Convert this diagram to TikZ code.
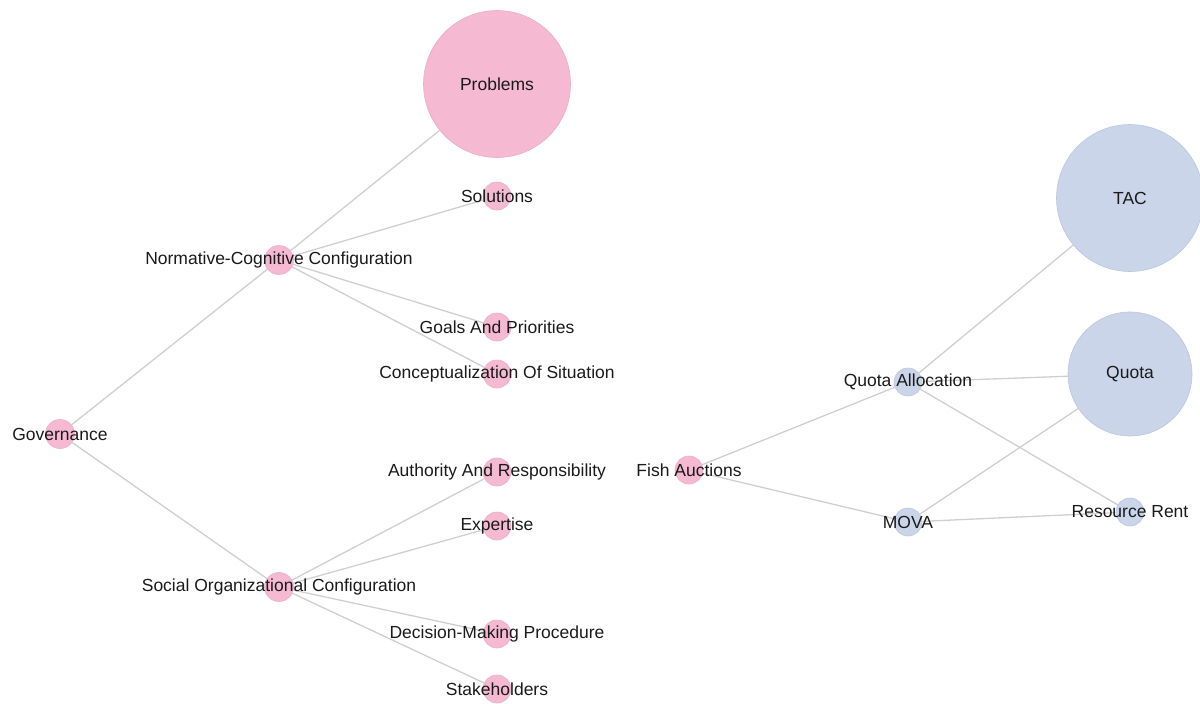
\documentclass[tikz,border=0pt]{standalone}
\usepackage{fontspec}
\setmainfont{Liberation Sans}
\definecolor{pinkfill}{HTML}{F6B9D2}
\definecolor{pinkdraw}{HTML}{E9AFC6}
\definecolor{bluefill}{HTML}{CBD5E9}
\definecolor{bluedraw}{HTML}{BCC7DD}
\definecolor{edgecol}{HTML}{CFCFCF}
\definecolor{txt}{HTML}{1A1A1A}
\tikzset{
  pnode/.style={circle, fill=pinkfill, draw=pinkdraw, line width=0.6pt, inner sep=0pt, minimum size=#1},
  bnode/.style={circle, fill=bluefill, draw=bluedraw, line width=0.6pt, inner sep=0pt, minimum size=#1},
  lbl/.style={text=txt, inner sep=0pt, font=\fontsize{17.5}{20}\selectfont},
  edge/.style={draw=edgecol, line width=1.3pt}
}
\begin{document}
\begin{tikzpicture}[x=1pt,y=-1pt]
\useasboundingbox (0,0) rectangle (1200,704);
% circles
\node[pnode=29pt] (gov) at (60,434) {};
\node[pnode=29pt] (ncc) at (279,260) {};
\node[pnode=29pt] (soc) at (279,587) {};
\node[pnode=147pt] (prob) at (497,84) {};
\node[pnode=28pt] (sol) at (497,196) {};
\node[pnode=28pt] (goals) at (497,327) {};
\node[pnode=28pt] (conc) at (497,374) {};
\node[pnode=28pt] (auth) at (497,472) {};
\node[pnode=28pt] (exp) at (497,526) {};
\node[pnode=28pt] (dmp) at (497,634) {};
\node[pnode=28pt] (stake) at (497,689) {};
\node[pnode=28pt] (fish) at (689,470) {};
\node[bnode=28pt] (qa) at (908,382) {};
\node[bnode=28pt] (mova) at (908,522) {};
\node[bnode=28pt] (rr) at (1130,512) {};
\node[bnode=147pt] (tac) at (1130,198) {};
\node[bnode=124pt] (quota) at (1130,374) {};
% edges
\draw[edge] (gov) -- (ncc);
\draw[edge] (gov) -- (soc);
\draw[edge] (ncc) -- (prob);
\draw[edge] (ncc) -- (sol);
\draw[edge] (ncc) -- (goals);
\draw[edge] (ncc) -- (conc);
\draw[edge] (soc) -- (auth);
\draw[edge] (soc) -- (exp);
\draw[edge] (soc) -- (dmp);
\draw[edge] (soc) -- (stake);
\draw[edge] (fish) -- (qa);
\draw[edge] (fish) -- (mova);
\draw[edge] (qa) -- (tac);
\draw[edge] (qa) -- (quota);
\draw[edge] (qa) -- (rr);
\draw[edge] (mova) -- (quota);
\draw[edge] (mova) -- (rr);
% labels
\node[lbl] (govL) at (gov) {Governance};
\node[lbl] (nccL) at (ncc) {Normative-Cognitive Configuration};
\node[lbl] (socL) at (soc) {Social Organizational Configuration};
\node[lbl] (probL) at (prob) {Problems};
\node[lbl] (solL) at (sol) {Solutions};
\node[lbl] (goalsL) at (goals) {Goals And Priorities};
\node[lbl] (concL) at (conc) {Conceptualization Of Situation};
\node[lbl] (authL) at (auth) {Authority And Responsibility};
\node[lbl] (expL) at (exp) {Expertise};
\node[lbl] (dmpL) at (dmp) {Decision-Making Procedure};
\node[lbl] (stakeL) at (stake) {Stakeholders};
\node[lbl] (fishL) at (fish) {Fish Auctions};
\node[lbl] (qaL) at (qa) {Quota Allocation};
\node[lbl] (movaL) at (mova) {MOVA};
\node[lbl] (rrL) at (rr) {Resource Rent};
\node[lbl] (tacL) at (tac) {TAC};
\node[lbl] (quotaL) at (quota) {Quota};
\end{tikzpicture}
\end{document}
